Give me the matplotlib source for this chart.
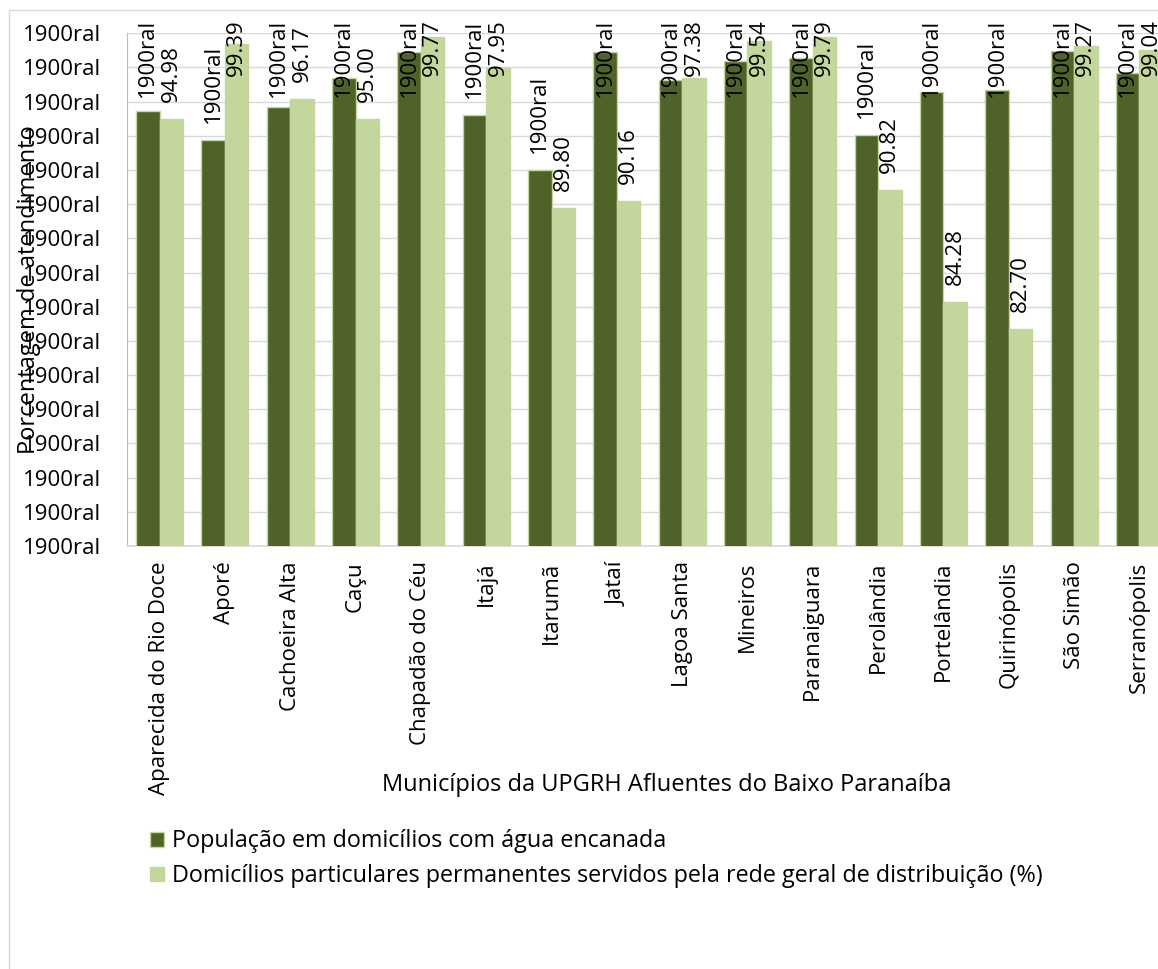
import numpy as np
import matplotlib
matplotlib.use("Agg")
import matplotlib.pyplot as plt
from matplotlib.patches import Rectangle, Patch

categories = ["Aparecida do Rio Doce", "Aporé", "Cachoeira Alta", "Caçu",
              "Chapadão do Céu", "Itajá", "Itarumã", "Jataí", "Lagoa Santa",
              "Mineiros", "Paranaiguara", "Perolândia", "Portelândia",
              "Quirinópolis", "São Simão", "Serranópolis"]
populacao = [95.43, 93.78, 95.69, 97.41, 98.93, 95.24, 92.03, 98.93, 97.24,
             98.40, 98.54, 94.07, 96.56, 96.70, 98.99, 97.67]
domicilios = [94.98, 99.39, 96.17, 95.00, 99.77, 97.95, 89.80, 90.16, 97.38,
              99.54, 99.79, 90.82, 84.28, 82.70, 99.27, 99.04]
populacao_labels = ["1900ral"] * len(populacao)
domicilios_labels = [f"{v:.2f}" for v in domicilios]
y_ticks = list(range(70, 101, 2))
y_tick_labels = ["1900ral"] * len(y_ticks)
series_names = ["População em domicílios com água encanada",
                "Domicílios particulares permanentes servidos pela rede geral de distribuição (%)"]
x_title = "Municípios da UPGRH Afluentes do Baixo Paranaíba"
y_title = "Porcentagem de atendimento"

DARK = "#4f6228"
LIGHT = "#c3d69b"
FONT = "Open Sans"
plt.rcParams["font.family"] = [FONT, "DejaVu Sans"]

W, H = 1158, 969
fig = plt.figure(figsize=(W / 100, H / 100), dpi=100)

# outer chart border
fig.patches.append(Rectangle((9 / W, -0.1), 1.2, 1 - 10 / H + 0.1, transform=fig.transFigure,
                             fill=False, edgecolor="#d9d9d9", linewidth=1.0))

left, right, top, bottom = 127, 1172, 33.3, 546
ax = fig.add_axes([left / W, 1 - bottom / H, (right - left) / W, (bottom - top) / H])

x = np.arange(len(categories))
bw = 0.36
b1 = ax.bar(x - bw / 2, populacao, bw, bottom=0, color=DARK, edgecolor=LIGHT, linewidth=1.0, zorder=3)
b2 = ax.bar(x + bw / 2, domicilios, bw, bottom=0, color=LIGHT, edgecolor=LIGHT, linewidth=1.0, zorder=3)

ax.set_xlim(-0.5, len(categories) - 0.5)
ax.set_ylim(70, 100)
ax.set_yticks(y_ticks)
ax.set_yticklabels(y_tick_labels)
ax.set_xticks(x)
ax.set_xticklabels(categories, rotation=90, va="top", ha="center")
ax.tick_params(axis="y", length=0, pad=19, labelsize=16)
ax.tick_params(axis="x", length=0, pad=11, labelsize=16)
ax.grid(axis="y", color="#d9d9d9", linewidth=1.0, zorder=0)
ax.set_axisbelow(True)
for s in ["top", "right"]:
    ax.spines[s].set_visible(False)
ax.spines["left"].set_color("#bfbfbf")
ax.spines["bottom"].set_color("#d9d9d9")
ax.spines["bottom"].set_linewidth(1.2)

fig.text(29 / W, 1 - 290 / H, y_title, rotation=90, ha="center", va="center", fontsize=17)
fig.text(667 / W, 1 - 785 / H, x_title, ha="center", va="center", fontsize=17)

handles = [Patch(facecolor=DARK, edgecolor=LIGHT), Patch(facecolor=LIGHT, edgecolor=LIGHT)]
fig.legend(handles, series_names, loc="upper left", bbox_to_anchor=(141 / W, 1 - 820 / H),
           frameon=False, fontsize=16.8, handlelength=0.6, handleheight=0.6,
           handletextpad=0.35, labelspacing=0.47, borderaxespad=0)

# data labels (rotated, above bars, clamped at the chart top)
fig.canvas.draw()
r = fig.canvas.get_renderer()
gap, top_margin = 17, 19
for bars, labels in ((b1, populacao_labels), (b2, domicilios_labels)):
    for rect, lab in zip(bars, labels):
        cx = rect.get_x() + rect.get_width() / 2
        t = ax.text(cx, 0, lab, rotation=90, ha="center", va="bottom", fontsize=16,
                    color="black", zorder=5, clip_on=False)
        length = t.get_window_extent(r).height
        top_disp = ax.transData.transform((cx, rect.get_height()))[1]
        bdisp = min(top_disp + gap, fig.bbox.height - top_margin - length)
        t.set_y(ax.transData.inverted().transform((0, bdisp))[1])

fig.savefig("out.png", dpi=100)
